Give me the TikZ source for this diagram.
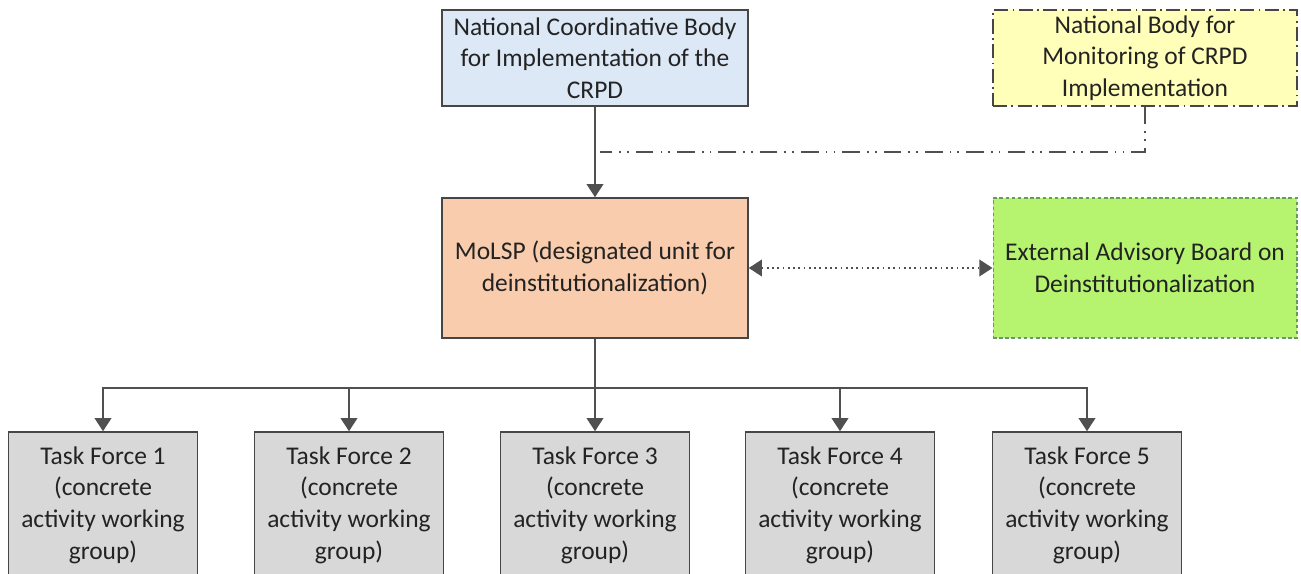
\documentclass[tikz,border=0pt]{standalone}
\usepackage{fontspec}
\setmainfont{Carlito}
\usetikzlibrary{arrows.meta}

\definecolor{coordblue}{RGB}{220,232,245}
\definecolor{monyellow}{RGB}{255,255,185}
\definecolor{molorange}{RGB}{248,204,172}
\definecolor{advgreen}{RGB}{182,244,112}
\definecolor{taskgray}{RGB}{216,216,216}
\definecolor{boxline}{RGB}{70,70,70}
\definecolor{linkgray}{RGB}{80,80,80}
\definecolor{textgray}{RGB}{35,35,35}

\begin{document}
\begin{tikzpicture}[x=0.02cm, y=-0.02cm, >={Triangle[width=9.5pt,length=7.5pt]},
    box/.style={draw=boxline, line width=0.9pt, align=center, text=textgray,
        inner sep=2pt, font=\fontsize{14.5}{18}\selectfont},
    taskbox/.style={box, fill=taskgray, minimum width=3.78cm, minimum height=2.92cm},
    link/.style={->, draw=linkgray, line width=1.1pt}]
    \useasboundingbox (0,0) rectangle (1301,574);

    % upper level
    \node[box, fill=coordblue, minimum width=6.12cm, minimum height=1.92cm] (coord) at (595,58)
        {National Coordinative Body\\for Implementation of the\\CRPD};
    \node[box, fill=monyellow, minimum width=6.08cm, minimum height=1.92cm,
        dash pattern=on 8pt off 2.5pt on 1pt off 2.5pt] (monitor) at (1145,58)
        {National Body for\\Monitoring of CRPD\\Implementation};

    % middle level
    \node[box, fill=molorange, minimum width=6.12cm, minimum height=2.8cm] (mol) at (595,268)
        {MoLSP (designated unit for\\deinstitutionalization)};
    \node[box, fill=advgreen, draw=gray!80!green, line width=0.6pt,
        dash pattern=on 2pt off 1.5pt, minimum width=6.08cm, minimum height=2.8cm] (advisory) at (1145,268)
        {External Advisory Board on\\Deinstitutionalization};

    \draw[link] (coord) -- (mol);
    \coordinate (monend) at (600,152);
    \draw[linkgray, line width=1pt, dash pattern=on 10pt off 4pt on 1pt off 3.5pt on 1pt off 4pt]
        (monitor.south) |- (monend);
    \draw[<->, linkgray, line width=1pt, dotted] (mol) -- (advisory);

    % task forces
    \foreach \i/\x in {1/103, 2/349, 3/595, 4/840, 5/1087} {
        \node[taskbox] (tf\i) at (\x,505) {Task Force \i\\(concrete\\activity working\\group)};
        \draw[link] (mol.south) -- ++(0,49) -| (tf\i.north);
    }
\end{tikzpicture}
\end{document}
